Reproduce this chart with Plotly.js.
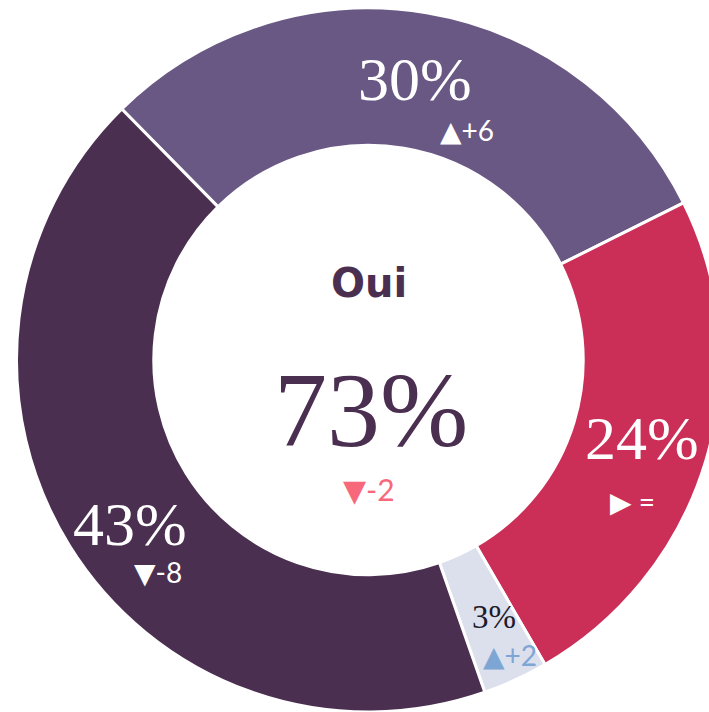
<!DOCTYPE html>
<html>
<head>
<meta charset="utf-8">
<script src="https://cdn.plot.ly/plotly-3.0.1.min.js"></script>
<style>
  html, body { margin: 0; padding: 0; overflow: hidden; background: #ffffff; }
  #chart { width: 737px; height: 720px; }
</style>
</head>
<body>
<div id="chart"></div>
<script>
// ---- data ----
const categories = ["Oui, tout à fait", "Non", "Ne sait pas", "Oui, plutôt"];
const values = [30, 24, 3, 43];
const deltas = ["▲+6", "▶ =", "▲+2", "▼-8"];
const totalLabel = "Oui";
const totalValue = 73;
const totalDelta = "▼-2";

// ---- style ----
const sliceColors = ["#6a5884", "#cb2f57", "#dcdfec", "#4b2f50"];
const pctColors = ["#ffffff", "#ffffff", "#1d1a2b", "#ffffff"];
const deltaColors = ["#ffffff", "#ffffff", "#7ea6d5", "#ffffff"];
const pctSizes = [62, 62, 33, 62];
const pctOffsets = [[0, -2], [2, -3], [7, 0], [2, 14]];
const deltaOffsets = [[52, 49], [-7, 60], [23, 38], [30, 62]];

const W = 737, H = 720;
const CX = 368.5, CY = 360, R = 352, HOLE = 0.61;
const ROTATION = -44.5;
const SERIF = "Liberation Serif, Times New Roman, serif";
const SANS = "Lato, DejaVu Sans, sans-serif";
const DARK = "#4b2f50";

const toPaper = (px, py) => ({ x: px / W, y: 1 - py / H });

const total = values.reduce((a, b) => a + b, 0);
const annotations = [];
let acc = 0;
const rMid = R * (1 + HOLE) / 2;
values.forEach((v, i) => {
  const mid = (ROTATION + (acc + v / 2) / total * 360) * Math.PI / 180;
  acc += v;
  const px = CX + rMid * Math.sin(mid);
  const py = CY - rMid * Math.cos(mid);
  const p1 = toPaper(px + pctOffsets[i][0], py + pctOffsets[i][1]);
  annotations.push({
    xref: "paper", yref: "paper", x: p1.x, y: p1.y,
    xanchor: "center", yanchor: "middle", showarrow: false,
    text: v + "%",
    font: { family: SERIF, size: pctSizes[i], color: pctColors[i] }
  });
  const p2 = toPaper(px + deltaOffsets[i][0], py + deltaOffsets[i][1]);
  annotations.push({
    xref: "paper", yref: "paper", x: p2.x, y: p2.y,
    xanchor: "center", yanchor: "middle", showarrow: false,
    text: deltas[i],
    font: { family: SANS, size: 28, color: deltaColors[i] }
  });
});

const c1 = toPaper(CX, CY - 77);
annotations.push({
  xref: "paper", yref: "paper", x: c1.x, y: c1.y,
  xanchor: "center", yanchor: "middle", showarrow: false,
  text: "<b>" + totalLabel + "</b>",
  font: { family: "DejaVu Sans, sans-serif", size: 40, color: DARK }
});
const c2 = toPaper(CX + 2, CY + 50);
annotations.push({
  xref: "paper", yref: "paper", x: c2.x, y: c2.y,
  xanchor: "center", yanchor: "middle", showarrow: false,
  text: totalValue + "%",
  font: { family: SERIF, size: 106, color: DARK }
});
const c3 = toPaper(CX, CY + 129);
annotations.push({
  xref: "paper", yref: "paper", x: c3.x, y: c3.y,
  xanchor: "center", yanchor: "middle", showarrow: false,
  text: totalDelta,
  font: { family: SANS, size: 30, color: "#f7697a" }
});

const trace = {
  type: "pie",
  labels: categories,
  values: values,
  hole: HOLE,
  sort: false,
  direction: "clockwise",
  rotation: ROTATION,
  textinfo: "none",
  hoverinfo: "label+percent",
  marker: { colors: sliceColors, line: { color: "#ffffff", width: 3 } },
  domain: {
    x: [(CX - R) / W, (CX + R) / W],
    y: [1 - (CY + R) / H, 1 - (CY - R) / H]
  }
};

const layout = {
  width: W, height: H,
  margin: { l: 0, r: 0, t: 0, b: 0 },
  paper_bgcolor: "#ffffff",
  showlegend: false,
  annotations: annotations
};

Plotly.newPlot("chart", [trace], layout, { displayModeBar: false, staticPlot: true });
</script>
</body>
</html>
